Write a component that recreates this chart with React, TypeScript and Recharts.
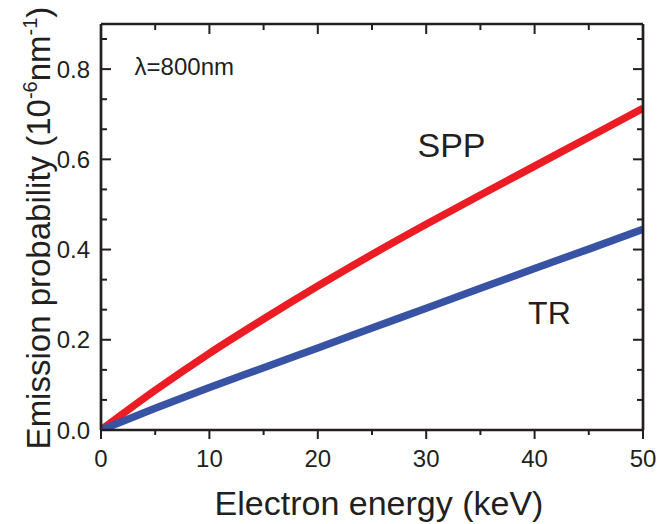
import { LineChart, Line, XAxis, YAxis, Label, ReferenceDot } from "recharts";

/* ── Data ─────────────────────────────────────────────────── */
const energyKeV = [0, 5, 10, 15, 20, 25, 30, 35, 40, 45, 50];
const sppValues = [0, 0.088, 0.17, 0.246, 0.319, 0.389, 0.456, 0.521, 0.585, 0.649, 0.713];
const trValues = [0, 0.048, 0.094, 0.138, 0.182, 0.226, 0.27, 0.314, 0.358, 0.401, 0.445];

const xMajorTicks = [0, 10, 20, 30, 40, 50];
const xMinorTicks = [5, 15, 25, 35, 45];
const yMajorTicks = [0, 0.2, 0.4, 0.6, 0.8];
const yMinorTicks = [0.0667, 0.1333, 0.2667, 0.3333, 0.4667, 0.5333, 0.6667, 0.7333, 0.8667];

const data = energyKeV.map((e, i) => ({ energy: e, spp: sppValues[i], tr: trValues[i] }));
const xTicks = [...xMajorTicks, ...xMinorTicks].sort((a, b) => a - b);
const yTicks = [...yMajorTicks, ...yMinorTicks].sort((a, b) => a - b);

/* ── Style ────────────────────────────────────────────────── */
const INK = "#231f20";
const FONT = "'Liberation Sans', Arial, sans-serif";
const RED = "#ec1c24";
const BLUE = "#3953a4";
const X_DOMAIN: [number, number] = [0, 50];
const Y_DOMAIN: [number, number] = [0, 0.9];
const axisStroke = { stroke: INK, strokeWidth: 2.7 };

const isXMajor = (v: number) => xMajorTicks.includes(v);
const isYMajor = (v: number) => yMajorTicks.includes(v);

/* ── Tick renderers (tick line drawn here so major/minor can differ) ── */
function BottomTick({ x, y, payload }: any) {
  const major = isXMajor(payload.value);
  return (
    <g>
      <line x1={x} x2={x} y1={y} y2={y + (major ? 9 : 5)} stroke={INK} strokeWidth={2} />
      {major && (
        <text x={x} y={y + 20} dy="0.71em" textAnchor="middle" fontSize={24} fontFamily={FONT} fill={INK}>
          {payload.value}
        </text>
      )}
    </g>
  );
}

function TopTick({ x, y, payload }: any) {
  const len = isXMajor(payload.value) ? 10 : 6;
  return <line x1={x} x2={x} y1={y} y2={y + len} stroke={INK} strokeWidth={2} />;
}

function LeftTick({ x, y, payload }: any) {
  const major = isYMajor(payload.value);
  return (
    <g>
      <line x1={x} x2={x + (major ? 10 : 6)} y1={y} y2={y} stroke={INK} strokeWidth={2} />
      {major && (
        <text x={x - 11} y={y} dy="0.355em" textAnchor="end" fontSize={24} fontFamily={FONT} fill={INK}>
          {payload.value.toFixed(1)}
        </text>
      )}
    </g>
  );
}

function RightTick({ x, y, payload }: any) {
  const len = isYMajor(payload.value) ? 10 : 6;
  return <line x1={x} x2={x - len} y1={y} y2={y} stroke={INK} strokeWidth={2} />;
}

function XTitle(props: any) {
  const { x, y, width } = props.viewBox;
  return (
    <text x={x + width / 2 + 7} y={y + 85} textAnchor="middle" fontSize={34} fontFamily={FONT} fill={INK}>
      Electron energy (keV)
    </text>
  );
}

function YTitle(props: any) {
  const { x, y, width, height } = props.viewBox;
  const cx = x + width - 51;
  const cy = y + height / 2 + 1;
  return (
    <text
      x={cx}
      y={cy}
      transform={`rotate(-90 ${cx} ${cy})`}
      textAnchor="middle"
      fontSize={33}
      fontFamily={FONT}
      fill={INK}
    >
      Emission probability (10
      <tspan fontSize={20} dy={-13}>-6</tspan>
      <tspan dy={13}>nm</tspan>
      <tspan fontSize={20} dy={-13}>-1</tspan>
      <tspan dy={13}>)</tspan>
    </text>
  );
}

const note = (text: string, size: number) => (props: any) => {
  const { x, y } = props.viewBox;
  return (
    <text x={x} y={y} fontSize={size} fontFamily={FONT} fill={INK}>
      {text}
    </text>
  );
};

export default function App() {
  return (
    <div style={{ position: "absolute", left: 0, top: 0, background: "#fff" }}>
      <LineChart width={657} height={524} data={data} margin={{ top: 23, right: 13, bottom: 64, left: 41 }}>
        <XAxis
          xAxisId="b"
          dataKey="energy"
          type="number"
          domain={X_DOMAIN}
          allowDataOverflow
          ticks={xTicks}
          interval={0}
          height={30}
          axisLine={axisStroke}
          tickLine={false}
          tickSize={0}
          tickMargin={0}
          tick={BottomTick}
        >
          <Label content={XTitle} />
        </XAxis>
        {/* top frame: same domain, the SPP series is bound to it */}
        <XAxis xAxisId="t" orientation="top" dataKey="energy" type="number" domain={X_DOMAIN} allowDataOverflow
          ticks={xTicks} height={1} interval={0} axisLine={axisStroke} tickLine={false} tickSize={0}
          tickMargin={0} tick={TopTick} />

        <YAxis
          yAxisId="l"
          type="number"
          domain={Y_DOMAIN}
          allowDataOverflow
          ticks={yTicks}
          interval={0}
          width={60}
          axisLine={axisStroke}
          tickLine={false}
          tickSize={0}
          tickMargin={0}
          tick={LeftTick}
        >
          <Label content={YTitle} />
        </YAxis>
        {/* right frame */}
        <YAxis yAxisId="r" orientation="right" type="number" domain={Y_DOMAIN} allowDataOverflow ticks={yTicks}
          width={1} interval={0} axisLine={axisStroke} tickLine={false} tickSize={0} tickMargin={0}
          tick={RightTick} />

        <Line xAxisId="t" yAxisId="r" type="monotone" dataKey="spp" stroke={RED} strokeWidth={7.5}
          dot={false} isAnimationActive={false} />
        <Line xAxisId="b" yAxisId="l" type="monotone" dataKey="tr" stroke={BLUE} strokeWidth={7.5}
          dot={false} isAnimationActive={false} />

        <ReferenceDot xAxisId="b" yAxisId="l" x={3.1} y={0.787} r={0} stroke="none" label={note("λ=800nm", 24)} />
        <ReferenceDot xAxisId="b" yAxisId="l" x={29.2} y={0.605} r={0} stroke="none" label={note("SPP", 34)} />
        <ReferenceDot xAxisId="b" yAxisId="l" x={39.4} y={0.235} r={0} stroke="none" label={note("TR", 32)} />
      </LineChart>
    </div>
  );
}
